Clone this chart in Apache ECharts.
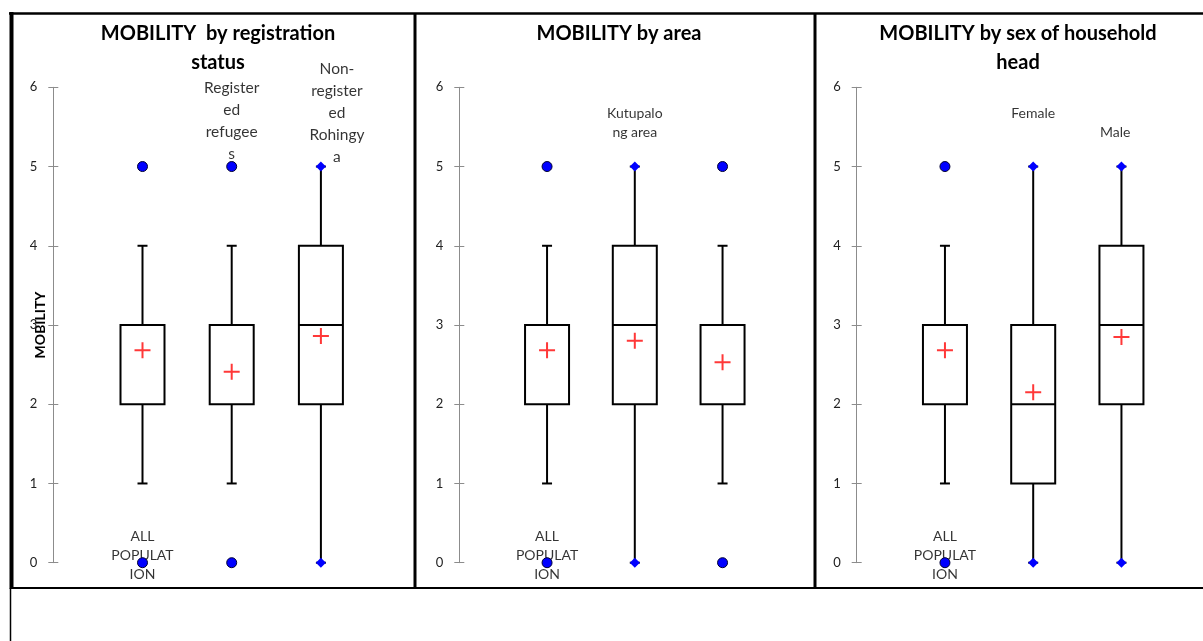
<!DOCTYPE html>
<html>
<head>
<meta charset="utf-8">
<script src="https://cdn.jsdelivr.net/npm/echarts@6/dist/echarts.min.js"></script>
<style>
  html, body { margin: 0; padding: 0; background: #fff; }
  #chart { width: 1203px; height: 641px; }
</style>
</head>
<body>
<div id="chart"></div>
<script>
// panel 1: by registration status
const regTitle = 'MOBILITY  by registration\nstatus';
const regLabels = ['ALL\nPOPULAT\nION', 'Register\ned\nrefugee\ns', 'Non-\nregister\ned\nRohingy\na'];
const regStats = [[1, 2, 3, 3, 4], [1, 2, 3, 3, 4], [0, 2, 3, 4, 5]]; // low whisker, Q1, median, Q3, high whisker
const regMeans = [2.68, 2.41, 2.86];
const regOutliers = [[0, 5], [0, 5], []];
const regExtremes = [[], [], [0, 5]];

// panel 2: by area
const areaTitle = 'MOBILITY by area';
const areaLabels = ['ALL\nPOPULAT\nION', 'Kutupalo\nng area', 'Nayapara\narea'];
const areaStats = [[1, 2, 3, 3, 4], [0, 2, 3, 4, 5], [1, 2, 3, 3, 4]];
const areaMeans = [2.68, 2.80, 2.53];
const areaOutliers = [[0, 5], [], [0, 5]];
const areaExtremes = [[], [0, 5], []];

// panel 3: by sex of household head
const sexTitle = 'MOBILITY by sex of household\nhead';
const sexLabels = ['ALL\nPOPULAT\nION', 'Female', 'Male'];
const sexStats = [[1, 2, 3, 3, 4], [0, 1, 2, 3, 5], [0, 2, 3, 4, 5]];
const sexMeans = [2.68, 2.15, 2.85];
const sexOutliers = [[0, 5], [], []];
const sexExtremes = [[], [0, 5], [0, 5]];

const yMin = 0, yMax = 6, yStep = 1;

// where the category labels sit, in axis units [x, y]
const regLabelAt = [[1, 0.09], [2, 5.58], [3.18, 5.67]];
const areaLabelAt = [[1, 0.09], [2, 5.55], [3, -0.03]];
const sexLabelAt = [[1, 0.09], [2, 5.67], [2.93, 5.43]];

const panels = [
  { title: regTitle, labels: regLabels, stats: regStats, means: regMeans, outliers: regOutliers, extremes: regExtremes, labelAt: regLabelAt,
    left: 53.3, step: 89.2, titleX: 218, labelFont: 15.5, labelLine: 22 },
  { title: areaTitle, labels: areaLabels, stats: areaStats, means: areaMeans, outliers: areaOutliers, extremes: areaExtremes, labelAt: areaLabelAt,
    left: 459.3, step: 87.75, titleX: 619, labelFont: 14, labelLine: 19 },
  { title: sexTitle, labels: sexLabels, stats: sexStats, means: sexMeans, outliers: sexOutliers, extremes: sexExtremes, labelAt: sexLabelAt,
    left: 856.7, step: 88.25, titleX: 1018, labelFont: 14, labelLine: 19 }
];

const FONT = 'Lato';
const AXIS_GREY = '#8c8c8c';
const PLUS = 'path://M7,0H9V7H16V9H9V16H7V9H0V7H7Z';
const X_SPAN = 3.5;

function renderBox (params, api) {
  const x = api.value(0);
  const lo = api.coord([x, api.value(1)]);
  const q1 = api.coord([x, api.value(2)]);
  const md = api.coord([x, api.value(3)]);
  const q3 = api.coord([x, api.value(4)]);
  const hi = api.coord([x, api.value(5)]);
  const half = 22, cap = 5;
  const line = { stroke: '#000', lineWidth: 2 };
  return {
    type: 'group',
    children: [
      { type: 'line', shape: { x1: lo[0], y1: lo[1], x2: q1[0], y2: q1[1] }, style: line },
      { type: 'line', shape: { x1: q3[0], y1: q3[1], x2: hi[0], y2: hi[1] }, style: line },
      { type: 'line', shape: { x1: lo[0] - cap, y1: lo[1], x2: lo[0] + cap, y2: lo[1] }, style: line },
      { type: 'line', shape: { x1: hi[0] - cap, y1: hi[1], x2: hi[0] + cap, y2: hi[1] }, style: line },
      { type: 'rect', shape: { x: q3[0] - half, y: q3[1], width: half * 2, height: q1[1] - q3[1] },
        style: { fill: '#fff', stroke: '#000', lineWidth: 2 } },
      { type: 'line', shape: { x1: md[0] - half, y1: md[1], x2: md[0] + half, y2: md[1] }, style: line }
    ]
  };
}

const grid = [], xAxis = [], yAxis = [], series = [], title = [];

panels.forEach((p, i) => {
  const w = p.step * X_SPAN;
  grid.push({ left: p.left, width: w, top: 87.3, height: 475.4 });
  xAxis.push({ type: 'value', gridIndex: i, min: 0, max: X_SPAN, show: false });
  // outer ticks + labels
  yAxis.push({
    type: 'value', gridIndex: i, position: 'left', min: yMin, max: yMax, interval: yStep,
    name: i === 0 ? 'MOBILITY' : '',
    nameLocation: 'middle', nameGap: 6, nameMoveOverlap: false,
    nameTextStyle: { fontFamily: FONT, fontSize: 14, fontWeight: 'bold', color: '#000' },
    axisLine: { show: true, lineStyle: { color: AXIS_GREY, width: 1 } },
    axisTick: { show: true, length: 5, lineStyle: { color: AXIS_GREY } },
    axisLabel: { margin: 16, fontFamily: FONT, fontSize: 13, color: '#222' },
    splitLine: { show: false }
  });
  // inner half of the crossing ticks: a right axis pulled back onto the left edge
  yAxis.push({
    type: 'value', gridIndex: i, position: 'right', offset: -w, min: yMin, max: yMax, interval: yStep,
    axisLine: { show: false },
    axisTick: { show: true, inside: false, length: 5, lineStyle: { color: AXIS_GREY } },
    axisLabel: { show: false },
    splitLine: { show: false }
  });
  title.push({
    text: p.title, left: p.titleX, top: 19, textAlign: 'center', padding: 0,
    textStyle: { fontFamily: FONT, fontSize: 20, fontWeight: 'bold', color: '#000', lineHeight: 29 }
  });

  series.push({
    type: 'custom', xAxisIndex: i, yAxisIndex: i * 2, z: 2,
    renderItem: renderBox,
    encode: { x: 0, y: [1, 2, 3, 4, 5] },
    data: p.stats.map((s, k) => [k + 1].concat(s))
  });
  series.push({
    type: 'scatter', xAxisIndex: i, yAxisIndex: i * 2, z: 1,
    symbolSize: 1, itemStyle: { color: 'transparent' },
    label: {
      show: true, position: 'inside', formatter: d => d.name,
      fontFamily: FONT, fontSize: p.labelFont, color: '#000', lineHeight: p.labelLine
    },
    data: p.labels.map((t, k) => ({
      name: t, value: p.labelAt[k],
      label: k === 0 ? { fontSize: 14, lineHeight: 19 } : undefined
    }))
  });
  const ext = [], out = [];
  p.extremes.forEach((vals, k) => vals.forEach(v => ext.push([k + 1, v])));
  p.outliers.forEach((vals, k) => vals.forEach(v => out.push([k + 1, v])));
  series.push({
    type: 'scatter', xAxisIndex: i, yAxisIndex: i * 2, z: 4,
    symbol: 'diamond', symbolSize: [10, 10],
    itemStyle: { color: '#0000ff', opacity: 1 },
    data: ext
  });
  series.push({
    type: 'scatter', xAxisIndex: i, yAxisIndex: i * 2, z: 4,
    symbol: 'circle', symbolSize: 10,
    itemStyle: { color: '#0000ff', borderColor: '#000033', borderWidth: 1, opacity: 1 },
    data: out
  });
  series.push({
    type: 'scatter', xAxisIndex: i, yAxisIndex: i * 2, z: 5,
    symbol: PLUS, symbolSize: 16,
    itemStyle: { color: '#ff3838', opacity: 1 },
    data: p.means.map((m, k) => [k + 1, m])
  });
});

const frame = { stroke: '#000' };
const graphic = [
  { type: 'line', shape: { x1: 9, y1: 13.5, x2: 1203, y2: 13.5 }, style: Object.assign({ lineWidth: 2.5 }, frame) },
  { type: 'line', shape: { x1: 11.5, y1: 12, x2: 11.5, y2: 589 }, style: Object.assign({ lineWidth: 4 }, frame) },
  { type: 'line', shape: { x1: 10.5, y1: 588, x2: 10.5, y2: 641 }, style: Object.assign({ lineWidth: 1.5 }, frame) },
  { type: 'line', shape: { x1: 415, y1: 13, x2: 415, y2: 589 }, style: Object.assign({ lineWidth: 3 }, frame) },
  { type: 'line', shape: { x1: 815, y1: 13, x2: 815, y2: 589 }, style: Object.assign({ lineWidth: 3 }, frame) },
  { type: 'line', shape: { x1: 10, y1: 588, x2: 1203, y2: 588 }, style: Object.assign({ lineWidth: 2 }, frame) }
];

const chart = echarts.init(document.getElementById('chart'));
chart.setOption({
  animation: false,
  backgroundColor: '#fff',
  title, grid, xAxis, yAxis, series, graphic
});
</script>
</body>
</html>
